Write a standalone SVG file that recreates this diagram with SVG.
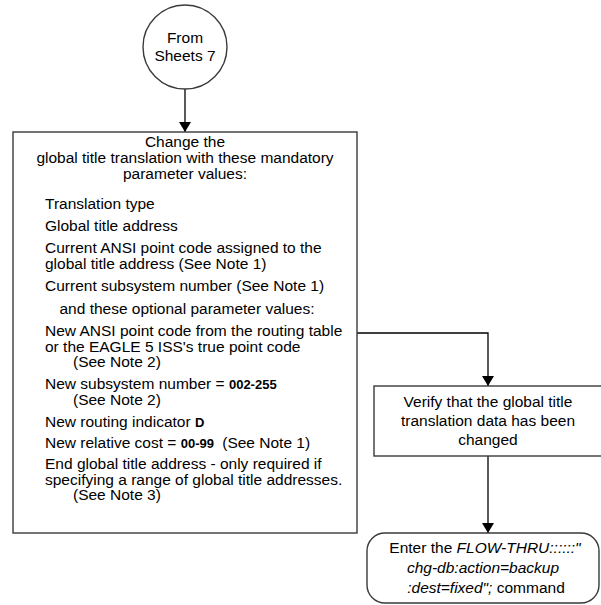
<svg xmlns="http://www.w3.org/2000/svg" width="601" height="605" viewBox="0 0 601 605">
<defs>
<marker id="ah" viewBox="0 0 10 12" refX="10" refY="6" markerWidth="10" markerHeight="12" markerUnits="userSpaceOnUse" orient="auto">
<path d="M0,0 L10,6 L0,12 z" fill="#000"/>
</marker>
<style>
.shape{fill:#fff;stroke:#3a3a3a;stroke-width:1.4}
.t{font-family:"Liberation Sans",Arial,sans-serif;font-size:15.5px;fill:#000}
.c{text-anchor:middle}
.b{font-weight:bold;font-size:13px}
.i{font-style:italic}
.conn{fill:none;stroke:#000;stroke-width:1.3}
</style>
</defs>
<rect width="601" height="605" fill="#fff"/>
<g id="connectors">
<path class="conn" d="M185,89 V132" marker-end="url(#ah)"/>
<path class="conn" d="M357,333 H488 V386" marker-end="url(#ah)"/>
<path class="conn" d="M488,456 V533" marker-end="url(#ah)"/>
</g>
<g id="start">
<circle class="shape" cx="185" cy="47" r="42"/>
<text class="t c" x="185" y="43">From</text>
<text class="t c" x="185" y="61">Sheets 7</text>
</g>
<g id="change">
<rect class="shape" x="13" y="132" width="344" height="401"/>
<text class="t c" x="185" y="147">Change the</text>
<text class="t c" x="185" y="162.5">global title translation with these mandatory</text>
<text class="t c" x="185" y="178.5">parameter values:</text>
<text class="t" x="45" y="209">Translation type</text>
<text class="t" x="45" y="231">Global title address</text>
<text class="t" x="45" y="253">Current ANSI point code assigned to the</text>
<text class="t" x="45" y="268.5">global title address (See Note 1)</text>
<text class="t" x="45" y="291">Current subsystem number (See Note 1)</text>
<text class="t c" x="187" y="313.5">and these optional parameter values:</text>
<text class="t" x="45" y="336">New ANSI point code from the routing table</text>
<text class="t" x="45" y="351.5">or the EAGLE 5 ISS's true point code</text>
<text class="t" x="73" y="367">(See Note 2)</text>
<text class="t" x="45" y="388.5">New subsystem number = <tspan class="b">002-255</tspan></text>
<text class="t" x="73" y="404.5">(See Note 2)</text>
<text class="t" x="45" y="427">New routing indicator <tspan class="b">D</tspan></text>
<text class="t" x="45" y="448">New relative cost = <tspan class="b">00-99</tspan><tspan dx="4"> (See Note 1)</tspan></text>
<text class="t" x="45" y="468.5">End global title address - only required if</text>
<text class="t" x="45" y="484.5">specifying a range of global title addresses.</text>
<text class="t" x="73" y="500">(See Note 3)</text>
</g>
<g id="verify">
<rect class="shape" x="374" y="386" width="228" height="70"/>
<text class="t c" x="488" y="407">Verify that the global title</text>
<text class="t c" x="488" y="426">translation data has been</text>
<text class="t c" x="488" y="445">changed</text>
</g>
<g id="backup">
<rect class="shape" x="367" y="533" width="232" height="70" rx="18" ry="18"/>
<text class="t c" x="485" y="553">Enter the <tspan class="i">FLOW-THRU::::::"</tspan></text>
<text class="t c i" x="483" y="573">chg-db:action=backup</text>
<text class="t c" x="486" y="593"><tspan class="i">:dest=fixed";</tspan> command</text>
</g>
</svg>
